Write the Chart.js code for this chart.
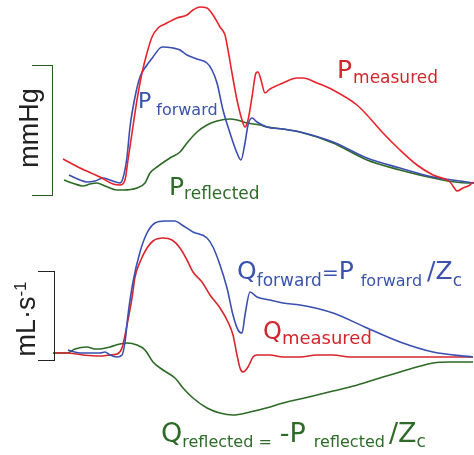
<!DOCTYPE html>
<html><head><meta charset="utf-8">
<script src="https://cdn.jsdelivr.net/npm/chart.js@4.4.1/dist/chart.umd.min.js"></script>
<style>
html,body{margin:0;padding:0;background:#fff;width:474px;height:455px;overflow:hidden;}
#wrap{position:relative;width:474px;height:455px;}
canvas{position:absolute;left:0;}
.lbl{position:absolute;white-space:nowrap;font-family:"DejaVu Sans";line-height:1;}
.red{color:#d3262c}.blue{color:#3b53ad}.green{color:#2e6b28}
.ax{position:absolute;white-space:nowrap;font-family:"Liberation Sans";line-height:1;color:#222;transform:translate(-50%,-50%) rotate(-90deg);}
.br{position:absolute;border:1.4px solid #2b5a25;border-left:none;}
</style>
</head><body>
<div id="wrap">
<canvas id="top" width="474" height="210" style="top:0"></canvas>
<canvas id="bot" width="474" height="245" style="top:210px"></canvas>

<div class="br" style="left:32px;top:65px;width:20px;height:129px;"></div>
<div class="br" style="left:38px;top:271px;width:16px;height:88px;border-color:#222;"></div>
<div class="ax" style="left:29px;top:128px;font-size:27px;">mmHg</div>
<div class="ax" style="left:26px;top:319px;font-size:27px;">mL·s<sup style="font-size:17px;vertical-align:9px;">-1</sup></div>

<div class="lbl red" style="left:337px;top:57px;font-size:25px;">P<span style="font-size:17px;vertical-align:-5px;margin-left:1px;">measured</span></div>
<div class="lbl blue" style="left:138px;top:90px;font-size:22px;">P<span style="font-size:16px;vertical-align:-7px;margin-left:5px;">forward</span></div>
<div class="lbl green" style="left:169px;top:174px;font-size:25px;">P<span style="font-size:17px;vertical-align:-4px;">reflected</span></div>

<div class="lbl blue" style="left:237px;top:258px;font-size:25px;">Q<span style="font-size:17px;vertical-align:-7px;">forward</span><span style="font-size:20px;">=</span>P<span style="font-size:16px;vertical-align:-7px;margin-left:7px;">forward</span><span style="margin-left:5px;">/Z</span><span style="font-size:17px;vertical-align:-7px;">c</span></div>
<div class="lbl red" style="left:263px;top:319px;font-size:24px;">Q<span style="font-size:18px;vertical-align:-5px;">measured</span></div>
<div class="lbl green" style="left:161px;top:419px;font-size:27px;">Q<span style="font-size:16px;vertical-align:-5px;">reflected =</span><span style="margin-left:8px;">-P</span><span style="font-size:16px;vertical-align:-5px;margin-left:8px;">reflected</span><span style="margin-left:4px;">/Z</span><span style="font-size:17px;vertical-align:-5px;">c</span></div>
</div>

<script>
// ---- Top panel: pressure (arbitrary mmHg units) vs time (arbitrary units) ----
const tPm = [63,80,100,113,120,125,128,132,137,142,147,152,158,165,177,187,193,200,207,213,220,225,228,232,237,242,245,248,252,256,258,261,265,270,283,297,303,317,333,357,367,383,400,417,433,450,455,457,463,470,473];
const pMeasured = [41,32,23,16,15,20,40,67,100,127,147,163,172,176,182,185,190,193,192,185,173,165,150,127,100,80,73,80,103,127,128,120,107,111,117,122,122,117,110,95,85,67,50,35,25,18,11,9,12,15,18];
const tPf = [69,80,87,95,103,110,120,123,127,130,135,140,147,153,160,163,173,180,187,197,207,212,217,223,230,237,241,245,248,252,257,267,283,300,333,367,400,433,467,474];
const pForward = [25,20,18,19,22,20,17,22,43,73,103,123,135,143,152,153,152,150,145,141,137,130,117,90,67,47,40,57,75,82,78,73,71,68,58,42,32,23,18,17];
const tPr = [64,75,83,90,97,105,117,123,137,145,150,157,170,180,187,197,207,217,230,237,247,260,267,283,300,333,367,400,433,467,474];
const pReflected = [20,16,14,16,17,14,10,10,12,17,27,33,42,48,57,68,75,79,81,80,77,75,73,71,68,57,40,30,22,17,17];

// ---- Bottom panel: flow (arbitrary mL/s units) vs time ----
const tQm = [53,67,83,100,110,117,122,127,132,135,140,147,153,163,172,180,187,193,202,210,220,228,233,237,240,243,248,253,257,270,283,300,317,333,350,367,400,433,473];
const qMeasured = [2,2,0,-1,0,1,7,30,57,78,93,107,114,117,115,107,95,83,73,60,47,33,20,0,-13,-17,-12,-2,0,0,-2,-2,0,0,-2,-2,-2,-2,-2];
const tQf = [68,80,90,100,105,110,117,122,125,128,133,140,147,155,165,175,182,193,207,213,220,227,233,238,242,245,250,257,270,283,300,333,367,400,433,473];
const qForward = [5,2,2,2,3,0,-2,0,13,40,73,103,122,132,134,134,130,123,117,108,90,67,40,25,22,40,63,58,55,52,50,42,27,13,3,-2];
const tQr = [53,67,75,87,95,100,110,120,127,137,145,153,163,175,183,193,207,220,233,250,270,283,300,317,333,350,367,383,400,417,433,450,473];
const qReflected = [2,2,6,8,6,6,8,11,12,10,5,-7,-15,-23,-33,-43,-53,-58,-60,-57,-52,-48,-44,-40,-36,-32,-27,-22,-17,-12,-8,-7,-7];

const RED = '#e8232b', BLUE = '#3a4fb0', GREEN = '#2d6a26';

function pts(xs, ys){ return xs.map((x,i)=>({x:x, y:ys[i]})); }
function ds(xs, ys, color, order){
  return {data: pts(xs, ys), borderColor: color, borderWidth: 1.6, pointRadius: 0,
    fill: false, cubicInterpolationMode: 'monotone', order: order};
}
function opts(ymin, ymax){
  return {
    responsive: false, animation: false, devicePixelRatio: 1,
    layout: {padding: 0},
    plugins: {legend: {display: false}, tooltip: {enabled: false}},
    scales: {
      x: {type: 'linear', min: 0, max: 474, display: false},
      y: {type: 'linear', min: ymin, max: ymax, display: false}
    }
  };
}

new Chart(document.getElementById('top'), {
  type: 'line',
  data: {datasets: [ds(tPm, pMeasured, RED, 0), ds(tPf, pForward, BLUE, 1), ds(tPr, pReflected, GREEN, 2)]},
  options: opts(-10, 200)
});
new Chart(document.getElementById('bot'), {
  type: 'line',
  data: {datasets: [ds(tQm, qMeasured, '#d8262c', 1), ds(tQf, qForward, BLUE, 0), ds(tQr, qReflected, GREEN, 2)]},
  options: opts(-100, 145)
});
</script>
</body></html>
